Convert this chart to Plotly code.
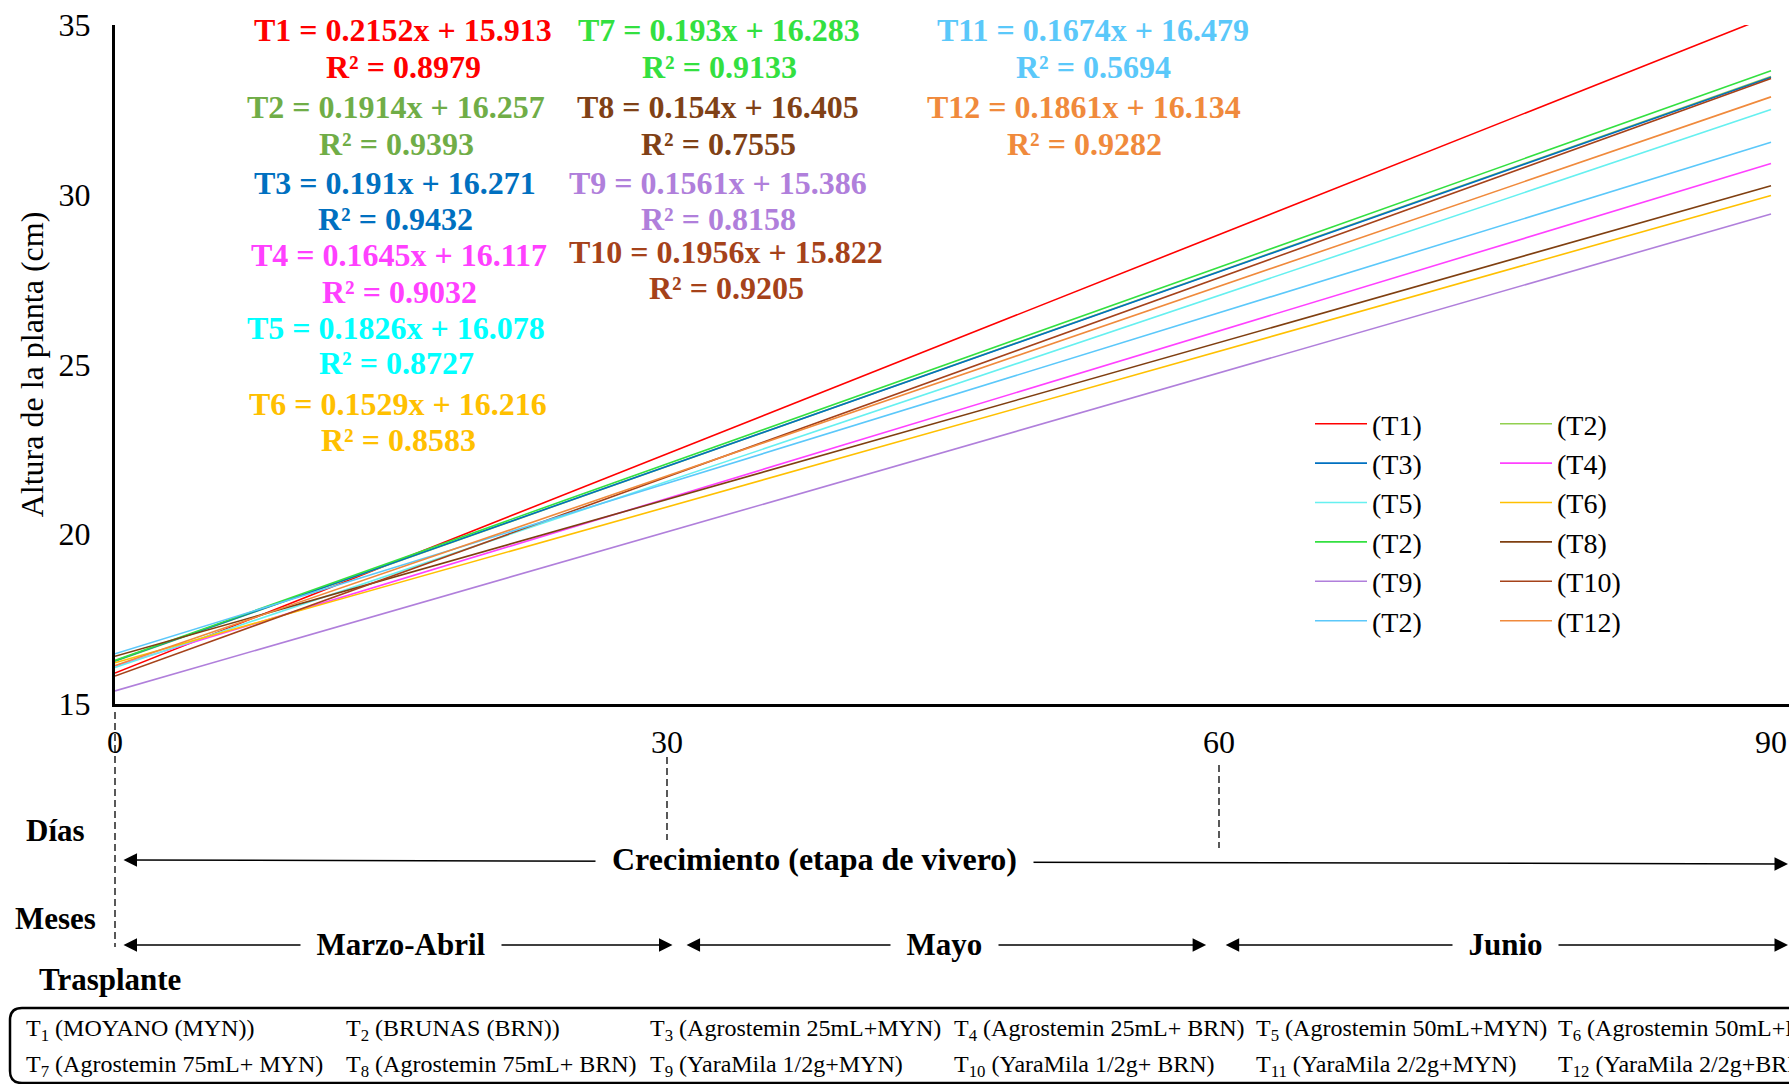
import plotly.graph_objects as go

# ---------------- data ----------------
TREATMENTS = ["T1", "T2", "T3", "T4", "T5", "T6", "T7", "T8", "T9", "T10", "T11", "T12"]
LEGEND_NAMES = ["(T1)", "(T2)", "(T3)", "(T4)", "(T5)", "(T6)",
                "(T2)", "(T8)", "(T9)", "(T10)", "(T2)", "(T12)"]
SLOPES = [0.2152, 0.1914, 0.191, 0.1645, 0.1826, 0.1529,
          0.193, 0.154, 0.1561, 0.1956, 0.1674, 0.1861]
INTERCEPTS = [15.913, 16.257, 16.271, 16.117, 16.078, 16.216,
              16.283, 16.405, 15.386, 15.822, 16.479, 16.134]
R2 = [0.8979, 0.9393, 0.9432, 0.9032, 0.8727, 0.8583,
      0.9133, 0.7555, 0.8158, 0.9205, 0.5694, 0.9282]
DAY_START = 0
DAY_END = 90
X_TICKS = [0, 30, 60, 90]
Y_TICKS = [15, 20, 25, 30, 35]
PERIOD_LABELS = ["Marzo-Abril", "Mayo", "Junio"]
STAGE_LABEL = "Crecimiento (etapa de vivero)"
ROW_LABELS = ["Días", "Meses", "Trasplante"]
DESCRIPTIONS = [
    ["(MOYANO (MYN))", "(BRUNAS (BRN))", "(Agrostemin 25mL+MYN)",
     "(Agrostemin 25mL+ BRN)", "(Agrostemin 50mL+MYN)", "(Agrostemin 50mL+BRN)"],
    ["(Agrostemin 75mL+ MYN)", "(Agrostemin 75mL+ BRN)", "(YaraMila 1/2g+MYN)",
     "(YaraMila 1/2g+ BRN)", "(YaraMila 2/2g+MYN)", "(YaraMila 2/2g+BRN)"],
]

# ---------------- styles ----------------
LINE_COLORS = ["#FF0000", "#92D050", "#0070C0", "#FF40FF", "#66F0F0", "#FFC000",
               "#33E040", "#7F3F10", "#B07FDB", "#A5421A", "#5BC8FA", "#F08A3C"]
TEXT_COLORS = ["#FF0000", "#70AD47", "#0070C0", "#FF40FF", "#00FFFF", "#FFC000",
               "#33E040", "#804116", "#B07FDB", "#A5421A", "#5AC8FA", "#F08A3C"]
SERIF = "Liberation Serif, Times New Roman, serif"

W, H = 1789, 1084
ML, MR, MT, MB = 115, 0, 25, 380
PW, PH = W - ML - MR, H - MT - MB
PX_PER_DAY = 552 / 30.0
X_MAX = PW / PX_PER_DAY


def pxx(p):  # pixel column -> paper x
    return (p - ML) / PW


def pxy(p):  # pixel row -> paper y
    return (H - MB - p) / PH


def dayx(d):  # day -> paper x
    return d / X_MAX


fig = go.Figure()

for i, t in enumerate(TREATMENTS):
    xs = [DAY_START, DAY_END]
    ys = [SLOPES[i] * x + INTERCEPTS[i] for x in xs]
    fig.add_trace(go.Scatter(
        x=xs, y=ys, mode="lines", name=LEGEND_NAMES[i],
        line=dict(color=LINE_COLORS[i], width=1.6),
        legend="legend" if i % 2 == 0 else "legend2",
        hoverinfo="skip",
    ))

annotations = []

# equation labels (positions in px)
EQ_POS = [(403, 30, 67), (396, 107, 144), (395, 183, 219), (399, 255, 292),
          (396, 328, 363), (398, 404, 440), (719, 30, 67), (718, 107, 144),
          (718, 183, 219), (726, 252, 288), (1093, 30, 67), (1084, 107, 144)]
for i, t in enumerate(TREATMENTS):
    cx, y1, y2 = EQ_POS[i]
    for txt, yy in ((f"{t} = {SLOPES[i]}x + {INTERCEPTS[i]}", y1),
                    (f"R² = {R2[i]}", y2)):
        annotations.append(dict(
            text=f"<b>{txt}</b>", xref="paper", yref="paper",
            x=pxx(cx), y=pxy(yy), xanchor="center", yanchor="middle",
            showarrow=False, font=dict(family=SERIF, size=32, color=TEXT_COLORS[i])))

NB = "\u00a0\u00a0"
ARROW = dict(showarrow=True, arrowside="end+start", arrowhead=2, arrowsize=1.8,
             arrowwidth=1.5, arrowcolor="black", standoff=0, startstandoff=0,
             xref="paper", yref="paper", axref="pixel", ayref="pixel")

# stage arrow (Crecimiento)
st_y0, st_y1 = 860, 864
annotations.append(dict(
    text=" ", x=dayx(X_MAX), y=pxy(st_y1),
    ax=-(X_MAX - 0.3) * PX_PER_DAY, ay=-(st_y1 - st_y0), **ARROW))
annotations.append(dict(
    text="<b>" + NB + STAGE_LABEL + NB + "</b>",
    xref="paper", yref="paper", x=pxx(814), y=pxy(859), xanchor="center",
    yanchor="middle", showarrow=False, bgcolor="white", borderpad=0,
    font=dict(family=SERIF, size=32, color="black")))

# month arrows
PERIOD_TIPS = [(0.3, 30.3), (30.9, 59.3), (60.2, X_MAX - 0.05)]
LABEL_SHIFT = [0.25, 0, 0]
for lab, (a, b) in zip(PERIOD_LABELS, PERIOD_TIPS):
    annotations.append(dict(
        text=" ", x=dayx(b), y=pxy(945), ax=-(b - a) * PX_PER_DAY, ay=0, **ARROW))
for lab, (a, b), s in zip(PERIOD_LABELS, PERIOD_TIPS, LABEL_SHIFT):
    annotations.append(dict(
        text="<b>" + NB + lab + NB + "</b>",
        xref="paper", yref="paper", x=dayx((a + b) / 2 + s),
        y=pxy(944), xanchor="center", yanchor="middle", showarrow=False,
        bgcolor="white", borderpad=0, font=dict(family=SERIF, size=31, color="black")))

# row labels
for lab, (cx, cy) in zip(ROW_LABELS, [(55, 830), (55, 918), (110, 980)]):
    annotations.append(dict(
        text=f"<b>{lab}</b>", xref="paper", yref="paper", x=pxx(cx), y=pxy(cy),
        xanchor="center", yanchor="middle", showarrow=False,
        font=dict(family=SERIF, size=31, color="black")))

# description box text
DESC_X = [24, 344, 648, 952, 1254, 1556]
DESC_Y = [1030, 1066]
for r, row in enumerate(DESCRIPTIONS):
    for c, d in enumerate(row):
        num = TREATMENTS[r * 6 + c][1:]
        annotations.append(dict(
            text=f"T<sub>{num}</sub> {d}", xref="paper", yref="paper",
            x=pxx(DESC_X[c]), y=pxy(DESC_Y[r]), xanchor="left", yanchor="middle",
            showarrow=False, font=dict(family=SERIF, size=24, color="black")))

shapes = []
# dashed guides
for d, (y0, y1) in zip([0, 30, 60], [(712, 947), (757, 840), (765, 848)]):
    shapes.append(dict(type="line", xref="paper", yref="paper",
                       x0=dayx(d), x1=dayx(d), y0=pxy(y0), y1=pxy(y1),
                       line=dict(color="black", width=1.3, dash="7px,4px")))
# rounded box
L, T, R, B, rr = 10, 1008, 1805, 1083, 12
path = (f"M{pxx(R)},{pxy(T)} L{pxx(L + rr)},{pxy(T)} Q{pxx(L)},{pxy(T)} {pxx(L)},{pxy(T + rr)} "
        f"L{pxx(L)},{pxy(B - rr)} Q{pxx(L)},{pxy(B)} {pxx(L + rr)},{pxy(B)} L{pxx(R)},{pxy(B)}")
shapes.append(dict(type="path", xref="paper", yref="paper", path=path,
                   line=dict(color="black", width=2.5)))

legend_common = dict(
    bgcolor="rgba(0,0,0,0)", borderwidth=0, xanchor="left", yanchor="top",
    font=dict(family=SERIF, size=28, color="black"), itemwidth=52,
    tracegroupgap=0, orientation="v")

fig.update_layout(
    width=W, height=H,
    margin=dict(l=ML, r=MR, t=MT, b=MB, pad=0),
    paper_bgcolor="white", plot_bgcolor="white",
    showlegend=True,
    legend=dict(x=pxx(1310), y=pxy(399), **legend_common),
    legend2=dict(x=pxx(1495), y=pxy(399), **legend_common),
    xaxis=dict(range=[0, X_MAX], tickvals=X_TICKS, ticktext=[str(v) for v in X_TICKS],
               showgrid=False, zeroline=False, showline=True, linecolor="black",
               linewidth=3, ticks="", ticklabelstandoff=8,
               tickfont=dict(family=SERIF, size=32, color="black")),
    yaxis=dict(range=[15, 35], tickvals=Y_TICKS, showgrid=False, zeroline=False,
               showline=True, linecolor="black", linewidth=3, ticks="",
               ticklabelstandoff=15,
               tickfont=dict(family=SERIF, size=32, color="black"),
               title=dict(text="Altura de la planta (cm)", standoff=6,
                          font=dict(family=SERIF, size=32, color="black"))),
    annotations=annotations,
    shapes=shapes,
)

fig.write_html("out.html")
